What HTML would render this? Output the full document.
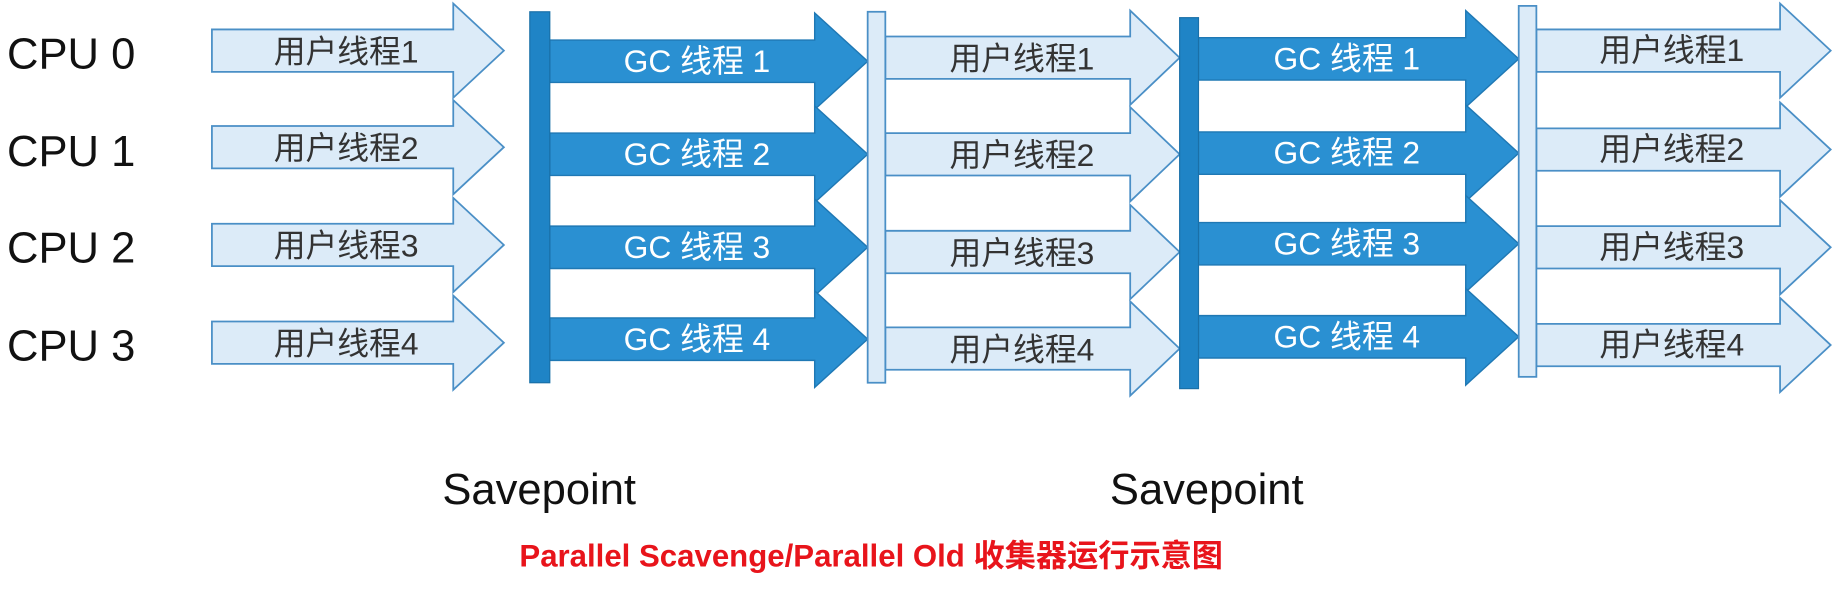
<!DOCTYPE html>
<html><head><meta charset="utf-8"><style>
html,body{margin:0;padding:0;background:#fff;width:1846px;height:590px;overflow:hidden}
svg{display:block}
.u{fill:#dcebf8;stroke:#4a8fc6;stroke-width:1.5}
.g{fill:#2a90d2;stroke:#1f78b4;stroke-width:1.2}
.ut{font-family:"Liberation Sans","Noto Sans CJK SC",sans-serif;font-size:27px;fill:#333;text-anchor:middle}
.gt{font-family:"Liberation Sans","Noto Sans CJK SC",sans-serif;font-size:27px;fill:#fff;text-anchor:middle}
.cpu{font-family:"Liberation Sans",sans-serif;font-size:37px;fill:#111}
</style></head><body>
<svg width="1846" height="590" viewBox="0 0 1568 501" preserveAspectRatio="none">
<g class="cpu">
<text x="6" y="58">CPU 0</text><text x="6" y="141">CPU 1</text><text x="6" y="223">CPU 2</text><text x="6" y="306">CPU 3</text>
</g>
<g class="u">
<polygon points="180,25 385,25 385,3 428,43 385,83 385,61 180,61"/>
<polygon points="180,107 385,107 385,85 428,125 385,165 385,143 180,143"/>
<polygon points="180,190 385,190 385,168 428,208 385,248 385,226 180,226"/>
<polygon points="180,273 385,273 385,251 428,291 385,331 385,309 180,309"/>
</g>
<g class="ut"><text x="294" y="53">用户线程1</text><text x="294" y="135">用户线程2</text><text x="294" y="218">用户线程3</text><text x="294" y="301">用户线程4</text></g>
<g class="g">
<polygon points="467,34 692,34 692,11 737,52 692,93 692,70 467,70"/>
<polygon points="467,113 692,113 692,90 737,131 692,172 692,149 467,149"/>
<polygon points="467,192 692,192 692,169 737,210 692,251 692,228 467,228"/>
<polygon points="467,270 692,270 692,247 737,288 692,329 692,306 467,306"/>
</g>
<g class="gt"><text x="592" y="61">GC 线程 1</text><text x="592" y="140">GC 线程 2</text><text x="592" y="219">GC 线程 3</text><text x="592" y="297">GC 线程 4</text></g>
<g class="u">
<polygon points="752,31 960,31 960,9 1002,49 960,89 960,67 752,67"/>
<polygon points="752,113 960,113 960,91 1002,131 960,171 960,149 752,149"/>
<polygon points="752,196 960,196 960,174 1002,214 960,254 960,232 752,232"/>
<polygon points="752,278 960,278 960,256 1002,296 960,336 960,314 752,314"/>
</g>
<g class="ut"><text x="868" y="59">用户线程1</text><text x="868" y="141">用户线程2</text><text x="868" y="224">用户线程3</text><text x="868" y="306">用户线程4</text></g>
<g class="g">
<polygon points="1018,32 1245,32 1245,9 1290,50 1245,91 1245,68 1018,68"/>
<polygon points="1018,112 1245,112 1245,89 1290,130 1245,171 1245,148 1018,148"/>
<polygon points="1018,189 1245,189 1245,166 1290,207 1245,248 1245,225 1018,225"/>
<polygon points="1018,268 1245,268 1245,245 1290,286 1245,327 1245,304 1018,304"/>
</g>
<g class="gt"><text x="1144" y="59">GC 线程 1</text><text x="1144" y="139">GC 线程 2</text><text x="1144" y="216">GC 线程 3</text><text x="1144" y="295">GC 线程 4</text></g>
<g class="u">
<polygon points="1305,25 1512,25 1512,3 1555,43 1512,83 1512,61 1305,61"/>
<polygon points="1305,109 1512,109 1512,87 1555,127 1512,167 1512,145 1305,145"/>
<polygon points="1305,192 1512,192 1512,170 1555,210 1512,250 1512,228 1305,228"/>
<polygon points="1305,275 1512,275 1512,253 1555,293 1512,333 1512,311 1305,311"/>
</g>
<g class="ut"><text x="1420" y="52">用户线程1</text><text x="1420" y="136">用户线程2</text><text x="1420" y="219">用户线程3</text><text x="1420" y="302">用户线程4</text></g>
<rect x="450" y="10" width="17" height="315" fill="#1f84c6" stroke="#1a70a8" stroke-width="1"/>
<rect x="737" y="10" width="15" height="315" fill="#dcebf8" stroke="#4a8fc6" stroke-width="1.5"/>
<rect x="1002" y="15" width="16" height="315" fill="#1f84c6" stroke="#1a70a8" stroke-width="1"/>
<rect x="1290" y="5" width="15" height="315" fill="#dcebf8" stroke="#4a8fc6" stroke-width="1.5"/>
<g font-family="Liberation Sans, sans-serif" font-size="37" fill="#111" text-anchor="middle">
<text x="458" y="428">Savepoint</text><text x="1025" y="428">Savepoint</text>
</g>
<text x="740" y="481" text-anchor="middle" font-family="Liberation Sans, Noto Sans CJK SC, sans-serif" font-size="26.5" font-weight="bold" fill="#e8141b">Parallel Scavenge/Parallel Old 收集器运行示意图</text>
</svg>
</body></html>
